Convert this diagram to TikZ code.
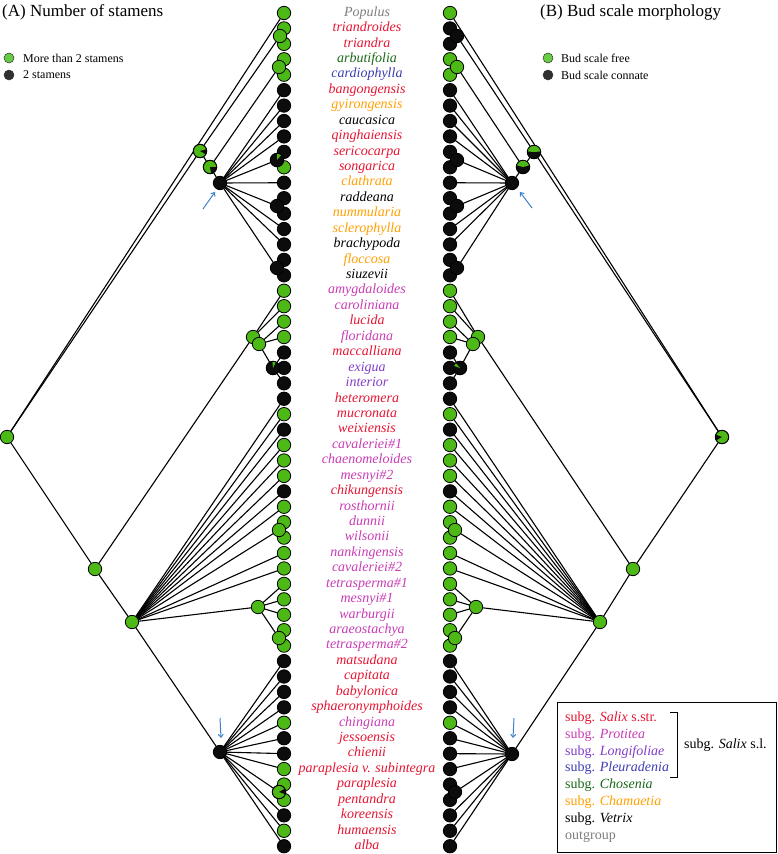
\documentclass[tikz,border=0pt]{standalone}
\usepackage{fontspec}
\setmainfont{Liberation Serif}
\usetikzlibrary{calc,arrows.meta}
\pgfdeclarelayer{edges}
\pgfsetlayers{edges,main}

\definecolor{stG}{RGB}{76,185,23}
\definecolor{stB}{RGB}{12,12,12}
\definecolor{legG}{RGB}{102,204,68}
\definecolor{cRed}{RGB}{230,20,50}
\definecolor{cMag}{RGB}{200,60,180}
\definecolor{cPur}{RGB}{130,60,200}
\definecolor{cBlu}{RGB}{60,60,180}
\definecolor{cGrn}{RGB}{25,105,25}
\definecolor{cOra}{RGB}{255,160,0}
\definecolor{cBlk}{RGB}{0,0,0}
\definecolor{cGry}{RGB}{125,125,125}
\definecolor{arrowblue}{RGB}{60,130,200}

% black or green slice over a state circle
\newcommand{\wedgeat}[4]{%
  \fill[#2] (#1.center) -- ++(#3:6.7) arc[start angle=#3, end angle=#4, radius=6.7] -- cycle;
  \draw[line width=0.8pt] (#1.center) circle[radius=6.7];}

\tikzset{
  dot/.style={circle, draw=black, line width=0.8pt, inner sep=0pt, minimum size=13.4pt},
  branch/.style={line width=1.1pt},
  taxon/.style={font=\fontsize{14}{14}\selectfont\itshape, inner sep=0pt, text height=9.5pt, text depth=3pt},
  legdot/.style={circle, draw=black!80, line width=0.5pt, inner sep=0pt, minimum size=10pt},
  legtext/.style={font=\fontsize{12}{12}\selectfont, anchor=west, inner sep=0pt},
  keytext/.style={font=\fontsize{14}{14}\selectfont, anchor=base west, inner sep=0pt},
  pointer/.style={arrowblue, line width=1pt, -{Straight Barb[length=3pt,width=5pt]}},
}

\begin{document}
\begin{tikzpicture}[x=1pt, y=-1pt]
\useasboundingbox (0,0) rectangle (778,854);

% titles and legends
\node[anchor=base west, font=\fontsize{17}{17}\selectfont, inner sep=0pt] (titA) at (2,16) {(A) Number of stamens};
\node[anchor=base west, font=\fontsize{17}{17}\selectfont, inner sep=0pt] (titB) at (540,16) {(B) Bud scale morphology};
\node[legdot, fill=legG] (legA1) at (9,58) {};
\node[legdot, fill=stB!85] (legA2) at (9,75) {};
\node[legtext] at (23,58) {More than 2 stamens};
\node[legtext] at (23,75) {2 stamens};
\node[legdot, fill=legG] (legB1) at (548,58) {};
\node[legdot, fill=stB!85] (legB2) at (548,75) {};
\node[legtext] at (561,58) {Bud scale free};
\node[legtext] at (561,75) {Bud scale connate};

% taxa, tip states (A) left, (B) right
\foreach \nm/\cl/\sa/\sb [count=\i from 0] in {
  Populus/cGry/G/G, triandroides/cRed/G/B, triandra/cRed/G/B, arbutifolia/cGrn/G/G,
  cardiophylla/cBlu/G/G, bangongensis/cRed/B/B, gyirongensis/cOra/B/B, caucasica/cBlk/B/B,
  qinghaiensis/cRed/B/B, sericocarpa/cRed/B/B, songarica/cRed/G/B, clathrata/cOra/B/B,
  raddeana/cBlk/B/B, nummularia/cOra/B/B, sclerophylla/cOra/B/B, brachypoda/cBlk/B/B,
  floccosa/cOra/B/B, siuzevii/cBlk/B/B, amygdaloides/cMag/G/G, caroliniana/cMag/G/G,
  lucida/cRed/G/G, floridana/cMag/G/G, maccalliana/cRed/B/B, exigua/cPur/B/B,
  interior/cPur/B/B, heteromera/cRed/B/B, mucronata/cRed/G/G, weixiensis/cRed/B/B,
  cavaleriei\#1/cMag/G/G, chaenomeloides/cMag/G/G, mesnyi\#2/cMag/G/G, chikungensis/cRed/B/B,
  rosthornii/cMag/G/G, dunnii/cMag/G/G, wilsonii/cMag/G/G, nankingensis/cMag/G/G,
  cavaleriei\#2/cMag/G/G, tetrasperma\#1/cMag/G/G, mesnyi\#1/cMag/G/G, warburgii/cMag/G/G,
  araeostachya/cMag/G/G, tetrasperma\#2/cMag/G/G, matsudana/cRed/B/B, capitata/cRed/B/B,
  babylonica/cRed/B/B, sphaeronymphoides/cRed/B/B, chingiana/cMag/G/G, jessoensis/cRed/B/B,
  chienii/cRed/B/B, paraplesia v. subintegra/cRed/G/B, paraplesia/cRed/G/B, pentandra/cRed/G/B,
  koreensis/cRed/B/B, humaensis/cRed/G/B, alba/cRed/B/B}{
  \node[taxon, text=\cl] (lab\i) at (367,{13+15.43*\i}) {\nm};
  \node[dot, fill=st\sa] (lt\i) at (284,{13+15.43*\i}) {};
  \node[dot, fill=st\sb] (rt\i) at (450,{13+15.43*\i}) {};
}

% internal nodes, tree A
\node[dot, fill=stG] (lroot) at (7,437) {};
\node[dot, fill=stG] (lo1) at (200,151) {};
\node[dot, fill=stG] (lo2) at (210,167) {};
\node[dot, fill=stG] (lp12) at (280,36) {};
\node[dot, fill=stG] (lp34) at (279,67) {};
\node[dot, fill=stB] (lv) at (220,183) {};
\node[dot, fill=stB] (lp910) at (277,160) {};
\node[dot, fill=stB] (lp1213) at (277,206) {};
\node[dot, fill=stB] (lp1617) at (277,268) {};
\node[dot, fill=stG] (ls1) at (95,569) {};
\node[dot, fill=stG] (la1) at (253,337) {};
\node[dot, fill=stG] (la2) at (259,344) {};
\node[dot, fill=stB] (lm) at (273,368) {};
\node[dot, fill=stG] (ls2) at (132,622) {};
\node[dot, fill=stG] (lp3334) at (279,530) {};
\node[dot, fill=stG] (ltt) at (258,607) {};
\node[dot, fill=stG] (lp4041) at (279,638) {};
\node[dot, fill=stB] (ls3) at (220,752) {};
\node[dot, fill=stG] (lp5051) at (279,792) {};
\wedgeat{lo1}{stB}{-15}{30}
\wedgeat{lo2}{stB}{0}{80}
\wedgeat{lp910}{stG}{-90}{-50}
\wedgeat{lm}{stG}{-95}{-65}
\wedgeat{lp5051}{stB}{-30}{20}

% internal nodes, tree B
\node[dot, fill=stG] (rroot) at (722,437) {};
\node[dot, fill=stB] (ro1) at (534,152) {};
\node[dot, fill=stB] (ro2) at (523,167) {};
\node[dot, fill=stB] (rp12) at (457,36) {};
\node[dot, fill=stG] (rp34) at (457,67) {};
\node[dot, fill=stB] (rv) at (512,183) {};
\node[dot, fill=stB] (rp910) at (457,160) {};
\node[dot, fill=stB] (rp1213) at (457,206) {};
\node[dot, fill=stB] (rp1617) at (457,268) {};
\node[dot, fill=stG] (rs1) at (633,569) {};
\node[dot, fill=stG] (ra1) at (478,337) {};
\node[dot, fill=stG] (ra2) at (473,344) {};
\node[dot, fill=stB] (rm) at (460,368) {};
\node[dot, fill=stG] (rs2) at (600,622) {};
\node[dot, fill=stG] (rp3334) at (455,530) {};
\node[dot, fill=stG] (rtt) at (476,607) {};
\node[dot, fill=stG] (rp4041) at (455,638) {};
\node[dot, fill=stB] (rs3) at (512,754) {};
\node[dot, fill=stB] (rp5051) at (455,792) {};
\wedgeat{ro1}{stG}{-175}{-5}
\wedgeat{ro2}{stG}{-165}{-15}
\wedgeat{rm}{stG}{-160}{-130}
\wedgeat{rroot}{stB}{150}{200}

% branches
\begin{pgfonlayer}{edges}
\foreach \s in {l,r}{
  \draw[branch] (\s root.center) -- (\s t0.center);
  \draw[branch] (\s root.center) -- (\s o1.center);
  \draw[branch] (\s root.center) -- (\s s1.center);
  \draw[branch] (\s o1.center) -- (\s p12.center);
  \draw[branch] (\s o1.center) -- (\s o2.center);
  \draw[branch] (\s o2.center) -- (\s p34.center);
  \draw[branch] (\s o2.center) -- (\s v.center);
  \foreach \k in {5,6,7,8,11,14,15}
    \draw[branch] (\s v.center) -- (\s t\k.center);
  \foreach \k in {910,1213,1617}
    \draw[branch] (\s v.center) -- (\s p\k.center);
  \draw[branch] (\s s1.center) -- (\s a1.center);
  \draw[branch] (\s s1.center) -- (\s s2.center);
  \draw[branch] (\s a1.center) -- (\s a2.center);
  \draw[branch] (\s a2.center) -- (\s m.center);
  \foreach \k in {25,...,32,35,36}
    \draw[branch] (\s s2.center) -- (\s t\k.center);
  \draw[branch] (\s s2.center) -- (\s p3334.center);
  \draw[branch] (\s s2.center) -- (\s tt.center);
  \draw[branch] (\s s2.center) -- (\s s3.center);
  \foreach \k in {37,38,39}
    \draw[branch] (\s tt.center) -- (\s t\k.center);
  \draw[branch] (\s tt.center) -- (\s p4041.center);
  \foreach \k in {42,...,49,52,53,54}
    \draw[branch] (\s s3.center) -- (\s t\k.center);
  \draw[branch] (\s s3.center) -- (\s p5051.center);
  % pairs and triples near the tips
  \foreach \p/\a/\b in {p12/1/2, p34/3/4, p910/9/10, p1213/12/13, p1617/16/17,
                        p3334/33/34, p4041/40/41, p5051/50/51}{
    \draw[branch] (\s\p.center) -- (\s t\a.center);
    \draw[branch] (\s\p.center) -- (\s t\b.center);
  }
  \foreach \k in {18,19}
    \draw[branch] (\s a1.center) -- (\s t\k.center);
  \foreach \k in {20,21}
    \draw[branch] (\s a2.center) -- (\s t\k.center);
  \foreach \k in {22,23,24}
    \draw[branch] (\s m.center) -- (\s t\k.center);
}
\end{pgfonlayer}

% arrows to the Vetrix and Salix s.str. nodes
\draw[pointer] ($(lv)+(-17,26)$) -- ($(lv)+(-5,9)$);
\draw[pointer] ($(ls3)+(0,-34)$) -- ($(ls3)+(1,-14)$);
\draw[pointer] ($(rv)+(20,25)$) -- ($(rv)+(8,9)$);
\draw[pointer] ($(rs3)+(2,-36)$) -- ($(rs3)+(1,-16)$);

% key of subgenera
\node[draw, line width=0.8pt, minimum width=219pt, minimum height=150pt, anchor=north west, inner sep=0pt] (keybox) at (557,702) {};
\node[keytext, text=cRed] (k1) at (565,721) {subg. \textit{Salix} s.str.};
\node[keytext, text=cMag] (k2) at (565,738) {subg. \textit{Protitea}};
\node[keytext, text=cPur] (k3) at (565,755) {subg. \textit{Longifoliae}};
\node[keytext, text=cBlu] (k4) at (565,771.5) {subg. \textit{Pleuradenia}};
\node[keytext, text=cGrn] (k5) at (565,788.5) {subg. \textit{Chosenia}};
\node[keytext, text=cOra] (k6) at (565,805.5) {subg. \textit{Chamaetia}};
\node[keytext, text=cBlk] (k7) at (565,822) {subg. \textit{Vetrix}};
\node[keytext, text=cGry] (k8) at (565,839.5) {outgroup};
\draw[line width=1pt] (670,712) -- (677,712) -- (677,777) -- (670,777);
\node[keytext] (ksl) at (684,748) {subg. \textit{Salix} s.l.};
\end{tikzpicture}
\end{document}
